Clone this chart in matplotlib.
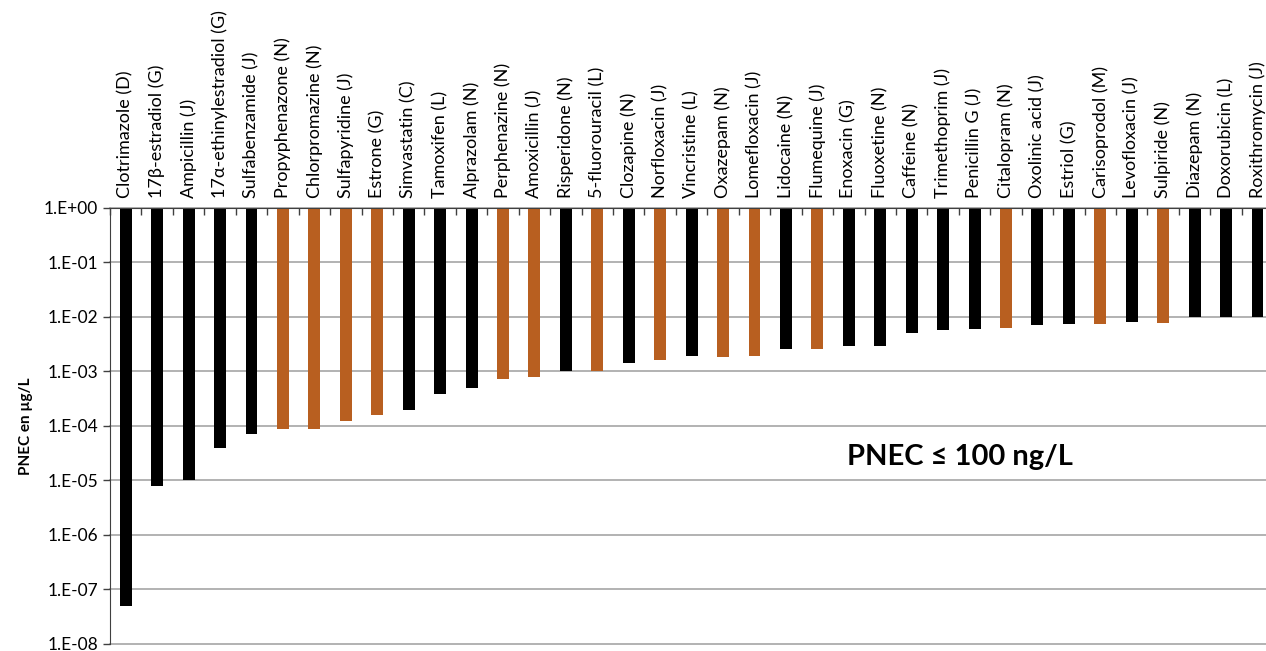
import math

import matplotlib.pyplot as plt
from matplotlib.ticker import FixedLocator, FuncFormatter

compounds = [
    'Clotrimazole (D)', '17β-estradiol (G)', 'Ampicillin (J)', '17α-ethinylestradiol (G)',
    'Sulfabenzamide (J)', 'Propyphenazone (N)', 'Chlorpromazine (N)', 'Sulfapyridine (J)',
    'Estrone (G)', 'Simvastatin (C)', 'Tamoxifen (L)', 'Alprazolam (N)', 'Perphenazine (N)',
    'Amoxicillin (J)', 'Risperidone (N)', '5-fluorouracil (L)', 'Clozapine (N)',
    'Norfloxacin (J)', 'Vincristine (L)', 'Oxazepam (N)', 'Lomefloxacin (J)', 'Lidocaine (N)',
    'Flumequine (J)', 'Enoxacin (G)', 'Fluoxetine (N)', 'Caffeine (N)', 'Trimethoprim (J)',
    'Penicillin G (J)', 'Citalopram (N)', 'Oxolinic acid (J)', 'Estriol (G)',
    'Carisoprodol (M)', 'Levofloxacin (J)', 'Sulpiride (N)', 'Diazepam (N)',
    'Doxorubicin (L)', 'Roxithromycin (J)',
]
pnec = [
    5e-8, 8e-6, 1e-5, 4e-5, 7.2e-5, 8.7e-5, 8.7e-5, 1.22e-4, 1.57e-4, 2e-4, 3.9e-4, 5e-4,
    7.2e-4, 7.8e-4, 1e-3, 1e-3, 1.43e-3, 1.6e-3, 1.9e-3, 1.88e-3, 1.96e-3, 2.6e-3, 2.6e-3,
    2.9e-3, 2.95e-3, 5e-3, 5.8e-3, 6e-3, 6.4e-3, 7.2e-3, 7.5e-3, 7.5e-3, 8e-3, 7.9e-3,
    1e-2, 1e-2, 1e-2,
]
# compounds drawn in orange
highlighted = [
    'Propyphenazone (N)', 'Chlorpromazine (N)', 'Sulfapyridine (J)', 'Estrone (G)',
    'Perphenazine (N)', 'Amoxicillin (J)', '5-fluorouracil (L)', 'Norfloxacin (J)',
    'Oxazepam (N)', 'Lomefloxacin (J)', 'Flumequine (J)', 'Citalopram (N)',
    'Carisoprodol (M)', 'Sulpiride (N)',
]
y_ticks = [1e0, 1e-1, 1e-2, 1e-3, 1e-4, 1e-5, 1e-6, 1e-7, 1e-8]

plt.rcParams['font.family'] = ['Lato', 'DejaVu Sans']

fig = plt.figure(figsize=(12.66, 6.51), dpi=100)
ax = fig.add_axes([0.0869, 0.0108, 0.9131, 0.6697])

x = list(range(len(compounds)))
colors = ['#b85f20' if c in highlighted else 'black' for c in compounds]
heights = [1 - v for v in pnec]
ax.bar(x, heights, bottom=pnec, width=0.38, color=colors, zorder=3)

ax.set_yscale('log')
ax.set_ylim(1e-8, 1)
ax.set_xlim(-0.5, 36.27)
ax.yaxis.set_major_locator(FixedLocator(y_ticks))
ax.yaxis.set_minor_locator(FixedLocator([]))
ax.yaxis.set_major_formatter(FuncFormatter(lambda v, p: '1.E{:+03d}'.format(int(round(math.log10(v))))))
ax.tick_params(axis='y', direction='out', length=5, width=1, labelsize=12.5, color='#404040')
for v in y_ticks:
    ax.axhline(v, color='#a6a6a6', lw=1.2, zorder=1, clip_on=False)

ax.xaxis.tick_top()
ax.set_xticks([i + 0.5 for i in x[:-1]] + [-0.5])
ax.set_xticklabels([])
ax.tick_params(axis='x', direction='in', length=5, width=1, color='#404040')
for i, name in enumerate(compounds):
    ax.text(i, 1.5, name, rotation=90, ha='center', va='bottom', fontsize=13,
            clip_on=False)

for s in ['bottom', 'right']:
    ax.spines[s].set_visible(False)
ax.spines['top'].set_color('#404040')
ax.spines['left'].set_color('#404040')
ax.spines['top'].set_zorder(4)

ax.set_ylabel('PNEC en µg/L', fontsize=11, fontweight='bold', labelpad=8)
ax.text(0.735, 0.429, 'PNEC ≤ 100 ng/L', transform=ax.transAxes, fontsize=21,
        fontweight='bold', ha='center', va='center')

fig.savefig('out.png', dpi=100)
